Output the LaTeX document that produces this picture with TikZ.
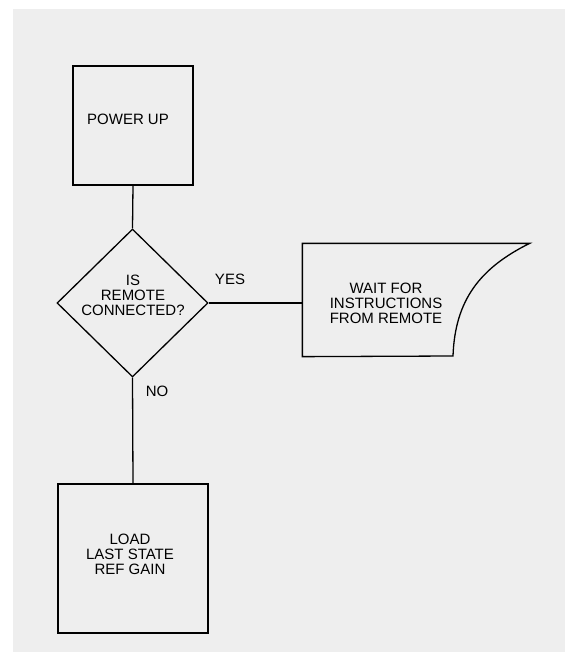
\documentclass[tikz,border=0pt]{standalone}
\usepackage{fontspec}
\setmainfont{Liberation Sans}
\usetikzlibrary{shapes.geometric}
\definecolor{bg}{HTML}{EEEEEE}
\begin{document}
\begin{tikzpicture}[x=1pt,y=-1pt,
  line width=1.3pt,
  box/.style={draw=black, inner sep=0pt},
  txt/.style={font=\fontsize{15}{15}\selectfont, align=center, inner sep=0pt, text=black},
  lbl/.style={font=\fontsize{15}{15}\selectfont, inner sep=0pt, text=black}]
\useasboundingbox (0,0) rectangle (565,652);
\fill[bg] (13,9) rectangle (565,652);
% boxes
\node[box, minimum width=120pt, minimum height=119pt] (power) at (133,125.5) {};
\node[txt] (powertxt) at (128,119.5) {POWER UP};
\node[box, diamond, minimum width=151pt, minimum height=148pt] (dec) at (132.5,303) {};
\node[txt] (dectxt) at (133,295.5) {IS\\REMOTE\\CONNECTED?};
\node[box, minimum width=150pt, minimum height=149pt] (load) at (133,558.5) {};
\node[txt] (loadtxt) at (130,554.5) {LOAD\\LAST STATE\\REF GAIN};
% card shape
\node[inner sep=0pt, minimum width=226pt, minimum height=112pt] (wait) at (416,300) {};
\coordinate (wbr) at (453,356);
\draw[line join=miter] (wait.north west) -- (wait.north east)
  .. controls (480,268) and (455,300) .. (wbr) -- (wait.south west) -- cycle;
\node[txt] (waittxt) at (386,303.5) {WAIT FOR\\INSTRUCTIONS\\FROM REMOTE};
% connectors
\draw (power.south) -- (dec.north);
\draw (dec.east) -- (dec.east -| wait.west);
\draw (dec.south) -- (load.north);
% labels
\node[lbl] (yes) at (230,279.5) {YES};
\node[lbl] (no) at (157,391) {NO};
\end{tikzpicture}
\end{document}
